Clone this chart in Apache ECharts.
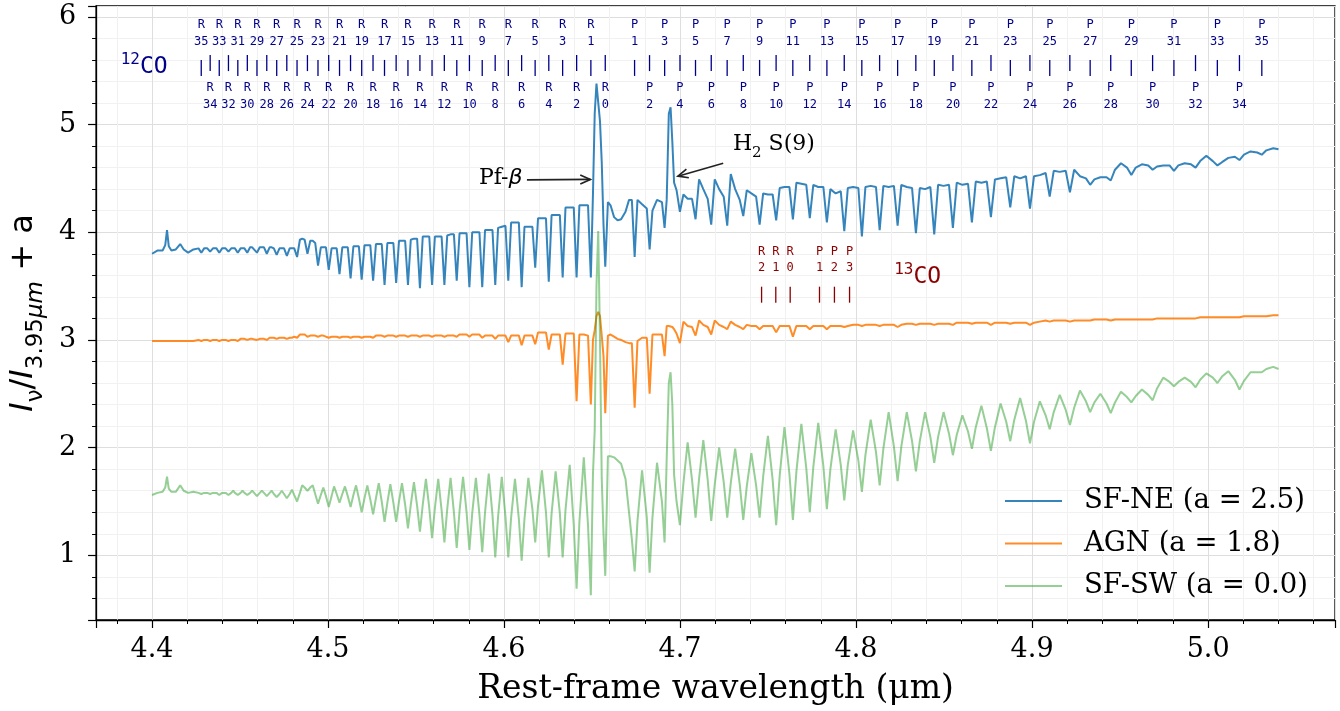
<!DOCTYPE html>
<html><head><meta charset="utf-8">
<script src="https://cdn.jsdelivr.net/npm/echarts@6/dist/echarts.min.js"></script>
<style>html,body{margin:0;padding:0;background:#fff}#c{width:1340px;height:711px}</style>
</head><body><div id="c"></div>
<script>
// ---------------- data ----------------
const wavelength = [
// pre
4.4000, 4.4030, 4.4060, 4.4075, 4.4085, 4.4095, 4.4110, 4.4135, 4.4160, 4.4180, 4.4205, 4.4235,
// R35..R1 (shoulder, line, shoulder, between-lines)
4.4264, 4.4280, 4.4296, 4.4305, 4.4314, 4.4330, 4.4346, 4.4356, 4.4366, 4.4382, 4.4398, 4.4408,
4.4418, 4.4434, 4.4450, 4.4461, 4.4471, 4.4487, 4.4503, 4.4514, 4.4525, 4.4541, 4.4557, 4.4569,
4.4580, 4.4596, 4.4612, 4.4624, 4.4636, 4.4652, 4.4668, 4.4680, 4.4692, 4.4708, 4.4724, 4.4737,
4.4750, 4.4766, 4.4782, 4.4795, 4.4808, 4.4824, 4.4840, 4.4853, 4.4867, 4.4883, 4.4899, 4.4913,
4.4927, 4.4943, 4.4959, 4.4973, 4.4988, 4.5004, 4.5020, 4.5034, 4.5049, 4.5065, 4.5081, 4.5096,
4.5112, 4.5128, 4.5144, 4.5159, 4.5175, 4.5191, 4.5207, 4.5223, 4.5240, 4.5256, 4.5272, 4.5288,
4.5305, 4.5321, 4.5337, 4.5354, 4.5371, 4.5387, 4.5403, 4.5420, 4.5438, 4.5454, 4.5470, 4.5488,
4.5506, 4.5522, 4.5538, 4.5556, 4.5575, 4.5591, 4.5607, 4.5626, 4.5645, 4.5661, 4.5677, 4.5696,
4.5715, 4.5731, 4.5747, 4.5767, 4.5787, 4.5803, 4.5819, 4.5840, 4.5860, 4.5876, 4.5892, 4.5913,
4.5934, 4.5950, 4.5966, 4.5987, 4.6008, 4.6024, 4.6040, 4.6062, 4.6084, 4.6100, 4.6116, 4.6138,
4.6161, 4.6177, 4.6193, 4.6215, 4.6238, 4.6254, 4.6270, 4.6293, 4.6317, 4.6333, 4.6349, 4.6373,
4.6396, 4.6412, 4.6428, 4.6453, 4.6477, 4.6493,
// Pf-beta, R0
4.6505, 4.6515, 4.6525, 4.6535, 4.6545, 4.6555, 4.6565, 4.6575, 4.6590, 4.6605, 4.6625, 4.6645, 4.6665, 4.6690, 4.6710,
// P1..P4, H2 S(9)
4.6726, 4.6742, 4.6758, 4.6784, 4.6811, 4.6827, 4.6843, 4.6869, 4.6897, 4.6912,
4.6924, 4.6936, 4.6946, 4.6956, 4.6966, 4.6980, 4.6999, 4.7019, 4.7043,
// P5..P35
4.7068, 4.7088, 4.7108, 4.7132, 4.7157, 4.7177, 4.7197, 4.7222, 4.7248, 4.7268, 4.7288, 4.7313,
4.7339, 4.7359, 4.7379, 4.7405, 4.7432, 4.7452, 4.7472, 4.7499, 4.7526, 4.7546, 4.7566, 4.7593,
4.7621, 4.7641, 4.7661, 4.7689, 4.7717, 4.7737, 4.7757, 4.7785, 4.7814, 4.7834, 4.7854, 4.7884,
4.7913, 4.7933, 4.7953, 4.7983, 4.8013, 4.8033, 4.8053, 4.8083, 4.8113, 4.8134, 4.8155, 4.8185,
4.8215, 4.8236, 4.8257, 4.8288, 4.8318, 4.8340, 4.8362, 4.8392, 4.8422, 4.8444, 4.8466, 4.8497,
4.8528, 4.8550, 4.8572, 4.8604, 4.8636, 4.8658, 4.8680, 4.8712, 4.8743, 4.8766, 4.8789, 4.8821,
4.8853, 4.8876, 4.8899, 4.8932, 4.8965, 4.8988, 4.9011, 4.9044, 4.9077, 4.9100, 4.9123, 4.9157,
4.9191, 4.9215, 4.9239, 4.9272, 4.9306, 4.9330, 4.9354, 4.9388, 4.9423, 4.9447, 4.9471, 4.9505,
4.9539, 4.9564, 4.9589, 4.9624, 4.9660, 4.9685, 4.9710, 4.9745, 4.9781, 4.9806, 4.9831, 4.9867,
4.9903, 4.9929, 4.9955, 4.9990, 5.0027, 5.0053, 5.0079, 5.0115, 5.0152, 5.0178, 5.0204, 5.0241,
5.0279, 5.0305, 5.0331, 5.0370, 5.0400
];

const sfNE = [
3.80, 3.83, 3.83, 3.88, 4.02, 3.87, 3.83, 3.84, 3.89, 3.84, 3.81, 3.84,
3.85,3.81,3.85,3.85, 3.85,3.82,3.85,3.85, 3.85,3.81,3.85,3.85,
3.85,3.82,3.85,3.85, 3.85,3.81,3.85,3.85, 3.85,3.81,3.86,3.86,
3.86,3.81,3.86,3.86, 3.86,3.80,3.86,3.86, 3.85,3.79,3.85,3.85,
3.85,3.78,3.85,3.85, 3.85,3.77,3.93,3.94, 3.93,3.80,3.92,3.92,
3.90,3.69,3.86,3.86, 3.86,3.65,3.85,3.85, 3.85,3.61,3.86,3.86,
3.86,3.57,3.87,3.87, 3.87,3.56,3.88,3.88, 3.88,3.55,3.89,3.89,
3.89,3.51,3.90,3.90, 3.90,3.53,3.92,3.92, 3.92,3.51,3.93,3.94,
3.94,3.48,3.96,3.96, 3.96,3.51,3.96,3.96, 3.96,3.51,3.97,3.98,
3.98,3.55,3.99,3.99, 3.99,3.49,4.00,4.00, 4.00,3.49,4.02,4.02,
4.02,3.51,4.04,4.05, 4.06,3.55,4.09,4.09, 4.09,3.49,4.05,4.05,
4.05,3.67,4.13,4.13, 4.13,3.54,4.16,4.16, 4.16,3.58,4.23,4.23,
4.23,3.58,4.25,4.25, 4.25,3.58,
4.35, 5.10, 5.38, 5.38, 5.03, 4.65, 4.07, 3.68, 4.28, 4.25, 4.14, 4.11, 4.12, 4.19, 4.30,
4.30, 3.77, 4.30, 4.26, 4.22, 3.84, 4.20, 4.30, 4.28, 4.04,
4.30, 5.10, 5.16, 4.84, 4.46, 4.39, 4.19, 4.35, 4.31,
4.31,4.12,4.49,4.40, 4.31,4.07,4.49,4.40, 4.33,4.06,4.54,4.40,
4.30,4.15,4.39,4.36, 4.33,4.07,4.36,4.35, 4.35,4.11,4.41,4.42,
4.42,4.12,4.46,4.45, 4.44,4.13,4.44,4.42, 4.42,4.09,4.40,4.36,
4.38,4.01,4.41,4.42, 4.41,3.96,4.42,4.43, 4.42,4.02,4.43,4.42,
4.43,4.06,4.44,4.42, 4.41,3.99,4.41,4.40, 4.42,3.98,4.44,4.43,
4.44,4.04,4.46,4.44, 4.45,4.09,4.47,4.46, 4.47,4.14,4.49,4.50,
4.51,4.23,4.52,4.50, 4.52,4.22,4.52,4.53, 4.55,4.33,4.57,4.56,
4.57,4.37,4.58,4.52, 4.50,4.44,4.49,4.51, 4.51,4.48,4.58,4.64,
4.60,4.53,4.60,4.63, 4.62,4.58,4.61,4.62, 4.62,4.57,4.62,4.64,
4.63,4.60,4.66,4.71, 4.66,4.62,4.65,4.69, 4.70,4.67,4.72,4.75,
4.74,4.72,4.76,4.78,4.77
];

const agn = [
2.99, 2.99, 2.99, 2.99, 3.00, 2.99, 2.99, 2.99, 2.99, 2.99, 2.99, 2.99,
3.00,2.99,3.00,3.00, 3.00,2.99,3.00,3.00, 3.00,2.99,3.00,3.00,
3.00,2.99,3.00,3.00, 3.00,2.99,3.01,3.01, 3.01,3.00,3.01,3.01,
3.01,3.00,3.01,3.01, 3.01,3.00,3.02,3.02, 3.02,3.01,3.02,3.02,
3.02,3.01,3.02,3.02, 3.03,3.02,3.05,3.05, 3.05,3.03,3.04,3.04,
3.04,3.03,3.04,3.04, 3.03,3.02,3.03,3.03, 3.03,3.02,3.03,3.03,
3.03,3.02,3.03,3.03, 3.03,3.02,3.03,3.03, 3.03,3.02,3.04,3.04,
3.04,3.03,3.04,3.04, 3.04,3.03,3.04,3.04, 3.04,3.03,3.04,3.04,
3.04,3.03,3.04,3.04, 3.04,3.03,3.04,3.04, 3.04,3.03,3.04,3.04,
3.04,3.03,3.05,3.05, 3.05,3.03,3.05,3.05, 3.05,3.02,3.04,3.04,
3.04,3.01,3.04,3.04, 3.04,2.98,3.04,3.04, 3.04,2.95,3.04,3.04,
3.04,2.96,3.07,3.07, 3.07,2.91,3.05,3.05, 3.05,2.77,3.06,3.06,
3.06,2.43,3.05,3.05, 3.04,2.40,
3.00, 3.09, 3.22, 3.26, 3.22, 3.04, 2.85, 2.32, 3.04, 3.05, 3.03, 3.01, 3.00, 2.98, 2.97,
2.97, 2.37, 2.99, 3.02, 3.02, 2.50, 3.05, 3.05, 3.05, 2.85,
3.13, 3.13, 3.12, 3.12, 3.10, 3.06, 2.97, 3.17, 3.13,
3.12,3.04,3.18,3.14, 3.12,3.05,3.18,3.14, 3.12,3.10,3.17,3.14,
3.12,3.10,3.14,3.13, 3.13,3.10,3.13,3.13, 3.13,3.07,3.13,3.13,
3.13,3.03,3.13,3.13, 3.13,3.10,3.13,3.13, 3.13,3.10,3.13,3.13,
3.13,3.12,3.13,3.14, 3.14,3.13,3.14,3.14, 3.14,3.13,3.14,3.14,
3.14,3.12,3.14,3.15, 3.15,3.14,3.15,3.15, 3.15,3.14,3.15,3.15,
3.15,3.14,3.16,3.16, 3.16,3.15,3.16,3.16, 3.16,3.14,3.16,3.16,
3.16,3.15,3.16,3.16, 3.16,3.14,3.16,3.17, 3.18,3.17,3.18,3.18,
3.18,3.17,3.18,3.18, 3.18,3.18,3.19,3.19, 3.19,3.18,3.19,3.19,
3.19,3.19,3.19,3.19, 3.19,3.19,3.20,3.20, 3.20,3.20,3.20,3.20,
3.20,3.20,3.21,3.21, 3.21,3.21,3.21,3.21, 3.21,3.21,3.22,3.22,
3.22,3.22,3.22,3.23,3.23
];

const sfSW = [
1.56, 1.58, 1.59, 1.63, 1.73, 1.62, 1.59, 1.59, 1.65, 1.60, 1.58, 1.59,
1.58,1.57,1.58,1.59, 1.58,1.57,1.58,1.59, 1.58,1.56,1.58,1.59,
1.58,1.56,1.58,1.60, 1.58,1.56,1.58,1.60, 1.58,1.56,1.58,1.60,
1.58,1.55,1.58,1.60, 1.58,1.55,1.58,1.60, 1.57,1.54,1.57,1.60,
1.57,1.53,1.57,1.61, 1.56,1.50,1.58,1.65, 1.63,1.60,1.63,1.65,
1.57,1.48,1.56,1.63, 1.55,1.45,1.55,1.64, 1.57,1.49,1.57,1.64,
1.55,1.45,1.56,1.65, 1.53,1.40,1.53,1.65, 1.52,1.38,1.53,1.67,
1.50,1.31,1.49,1.66, 1.49,1.31,1.50,1.67, 1.47,1.25,1.47,1.68,
1.46,1.22,1.47,1.71, 1.44,1.16,1.44,1.71, 1.42,1.12,1.43,1.72,
1.40,1.07,1.41,1.73, 1.40,1.05,1.39,1.72, 1.38,1.03,1.40,1.76,
1.38,0.98,1.36,1.73, 1.36,0.98,1.35,1.71, 1.34,0.95,1.34,1.72,
1.43,1.12,1.46,1.79, 1.40,0.98,1.39,1.78, 1.39,0.98,1.42,1.84,
1.28,0.69,1.31,1.91, 1.28,0.63,
1.75, 2.16, 3.50, 4.01, 3.00, 1.71, 1.20, 0.81, 1.92, 1.92, 1.91, 1.88, 1.85, 1.71, 1.40,
1.15, 0.85, 1.32, 1.79, 1.35, 0.84, 1.35, 1.86, 1.50, 1.12,
1.90, 2.60, 2.70, 2.40, 1.75, 1.50, 1.28, 1.67, 2.05,
1.70,1.35,1.71,2.07, 1.70,1.32,1.66,2.00, 1.68,1.35,1.67,1.99,
1.66,1.33,1.64,1.95, 1.65,1.35,1.73,2.11, 1.70,1.28,1.74,2.19,
1.76,1.33,1.78,2.22, 1.81,1.40,1.82,2.23, 1.83,1.43,1.80,2.17,
1.84,1.51,1.84,2.16, 1.88,1.59,1.93,2.26, 1.96,1.65,1.99,2.33,
2.01,1.69,2.01,2.33, 2.06,1.78,2.06,2.33, 2.10,1.86,2.10,2.33,
2.13,1.93,2.12,2.30, 2.15,1.99,2.19,2.39, 2.18,1.97,2.19,2.41,
2.24,2.06,2.26,2.46, 2.25,2.04,2.24,2.43, 2.30,2.17,2.33,2.49,
2.35,2.21,2.37,2.53, 2.43,2.33,2.42,2.50, 2.41,2.32,2.42,2.52,
2.47,2.42,2.48,2.54, 2.49,2.44,2.55,2.65, 2.61,2.57,2.61,2.65,
2.61,2.56,2.63,2.69, 2.65,2.60,2.66,2.71, 2.63,2.54,2.62,2.70,
2.70,2.70,2.73,2.75,2.73
];

const seriesNames = ['SF-NE (a = 2.5)', 'AGN (a = 1.8)', 'SF-SW (a = 0.0)'];

// 12CO v=1-0 line wavelengths (um): R(0..35), P(1..35)
const co12R = [4.65749, 4.64932, 4.64124, 4.63328, 4.62541, 4.61765, 4.60998, 4.60242, 4.59495, 4.58759,
  4.58032, 4.57314, 4.56606, 4.55908, 4.55219, 4.54539, 4.53868, 4.53207, 4.52555, 4.51912,
  4.51277, 4.50652, 4.50036, 4.49428, 4.48828, 4.48238, 4.47656, 4.47083, 4.46518, 4.45961,
  4.45413, 4.44873, 4.44341, 4.43818, 4.43302, 4.42795];
const co12P = [4.67415, 4.68265, 4.69124, 4.69995, 4.70877, 4.71771, 4.72675, 4.73591, 4.74518, 4.75456,
  4.76406, 4.77368, 4.78342, 4.79328, 4.80326, 4.81337, 4.82360, 4.83395, 4.84443, 4.85503,
  4.86577, 4.87664, 4.88764, 4.89877, 4.91004, 4.92145, 4.93299, 4.94468, 4.95635, 4.96847,
  4.98058, 4.99285, 5.00525, 5.01781, 5.03052];
// 13CO lines: R(0..2), P(1..3)
const co13R = [4.76256, 4.75438, 4.74631];
const co13P = [4.77921, 4.78770, 4.79629];

const xTickLabels = ['4.4', '4.5', '4.6', '4.7', '4.8', '4.9', '5.0'];

if (wavelength.length !== sfNE.length || wavelength.length !== agn.length || wavelength.length !== sfSW.length) {
  throw new Error('length mismatch ' + wavelength.length + ' ' + sfNE.length + ' ' + agn.length + ' ' + sfSW.length);
}

// ---------------- chart ----------------
const SERIF = 'DejaVu Serif', SANS = 'DejaVu Sans', MONO = 'DejaVu Sans Mono';
const NAVY = '#00008b', DRED = '#8b0000';
const pairs = arr => wavelength.map((w, i) => [w, arr[i]]);

const co12Items = [];
co12R.forEach((w, J) => co12Items.push({ w, text: 'R\n' + J, odd: J % 2 === 1 }));
co12P.forEach((w, i) => co12Items.push({ w, text: 'P\n' + (i + 1), odd: (i + 1) % 2 === 1 }));
const co13Items = [];
co13R.forEach((w, J) => co13Items.push({ w, text: 'R\n' + J }));
co13P.forEach((w, i) => co13Items.push({ w, text: 'P\n' + (i + 1) }));

const Y12 = { tickOdd: 5.525, tickEven: 5.57, labOdd: 5.843, labEven: 5.264 };
const Y13 = { tick: 3.42, lab: 3.745 };

const notes = [
  { at: [4.3955, 5.55], text: '{sup|12}{big|CO}', color: NAVY, align: 'center', set: 'co' },
  { at: [4.8350, 3.60], text: '{sup|13}{big|CO}', color: DRED, align: 'center', set: 'co' },
  { at: [4.6105, 4.48], text: '{n|Pf-}{g|β}', color: '#000', align: 'right', set: 'serif' },
  { at: [4.7300, 4.79], text: '{n|H}{s|2}{n| S(9)}', color: '#000', align: 'left', set: 'serif' }
];
const richSets = {
  co: {
    sup: { fontFamily: MONO, fontSize: 16, verticalAlign: 'bottom', padding: [0, 0, 11, 0] },
    big: { fontFamily: MONO, fontSize: 23, verticalAlign: 'bottom' }
  },
  serif: {
    n: { fontFamily: SERIF, fontSize: 22, verticalAlign: 'bottom', padding: [0, 0, 5, 0] },
    g: { fontFamily: SANS, fontStyle: 'italic', fontSize: 22, verticalAlign: 'bottom', padding: [0, 0, 5, 0] },
    s: { fontFamily: SERIF, fontSize: 15, verticalAlign: 'bottom' }
  }
};
const arrows = [
  [4.6130, 4.485, 4.6490, 4.490],
  [4.7245, 4.640, 4.6988, 4.520]
];

const chart = echarts.init(document.getElementById('c'), null, { renderer: 'canvas', width: 1340, height: 711 });

const option = {
  animation: false,
  backgroundColor: '#fff',
  grid: { left: 95, right: 5, top: 6, bottom: 89, show: true, borderColor: '#000', borderWidth: 1.3, backgroundColor: 'transparent' },
  legend: {
    data: seriesNames, orient: 'vertical', left: 1004, top: 487, padding: 0,
    itemWidth: 57, itemHeight: 26, itemGap: 14.5,
    itemStyle: { color: 'transparent', borderColor: 'transparent', borderWidth: 0, opacity: 0 },
    lineStyle: { width: 2 },
    textStyle: { fontFamily: SERIF, fontSize: 27.5, color: '#000', lineHeight: 26, padding: [0, 0, 0, 17] }
  },
  xAxis: {
    type: 'value', min: 4.3682, max: 5.0721, splitNumber: 7,
    name: 'Rest-frame wavelength (μm)', nameLocation: 'middle', nameGap: 53,
    nameTextStyle: { fontFamily: SERIF, fontSize: 33, color: '#000' },
    axisLine: { lineStyle: { color: '#000', width: 1.3 } },
    axisTick: { length: 8, lineStyle: { color: '#000', width: 1.2 } },
    minorTick: { show: true, splitNumber: 5, length: 4, lineStyle: { color: '#000', width: 1 } },
    splitLine: { show: true, lineStyle: { color: '#dedede', width: 1 } },
    minorSplitLine: { show: true, lineStyle: { color: '#f1f1f1', width: 1 } },
    axisLabel: {
      fontFamily: SERIF, fontSize: 27, color: '#000', margin: 16, showMinLabel: false, showMaxLabel: false,
      formatter: v => { const s = v.toFixed(1); return xTickLabels.includes(s) && Math.abs(v - parseFloat(s)) < 1e-6 ? s : ''; }
    }
  },
  yAxis: {
    type: 'value', min: 0.4, max: 6.1, splitNumber: 6,
    name: '{i|I}{sb|ν}{n|/}{i|I}{sb|3.95}{si|μm}{n| + a}', nameLocation: 'middle', nameGap: 48, nameRotate: 90,
    nameTextStyle: {
      color: '#000',
      rich: {
        i: { fontFamily: SANS, fontStyle: 'italic', fontSize: 32, verticalAlign: 'bottom', padding: [0, 0, 8, 0] },
        n: { fontFamily: SANS, fontSize: 32, verticalAlign: 'bottom', padding: [0, 0, 8, 0] },
        sb: { fontFamily: SANS, fontSize: 23, verticalAlign: 'bottom' },
        si: { fontFamily: SANS, fontStyle: 'italic', fontSize: 23, verticalAlign: 'bottom' }
      }
    },
    axisLine: { lineStyle: { color: '#000', width: 1.3 } },
    axisTick: { length: 8, lineStyle: { color: '#000', width: 1.2 } },
    minorTick: { show: true, splitNumber: 5, length: 4, lineStyle: { color: '#000', width: 1 } },
    splitLine: { show: true, lineStyle: { color: '#dedede', width: 1 } },
    minorSplitLine: { show: true, lineStyle: { color: '#f1f1f1', width: 1 } },
    axisLabel: { fontFamily: SERIF, fontSize: 27, color: '#000', margin: 20, showMinLabel: false, showMaxLabel: false,
      formatter: v => (Math.abs(v - Math.round(v)) < 1e-6 ? String(Math.round(v)) : '') }
  },
  series: [
    { name: seriesNames[0], type: 'line', data: pairs(sfNE), symbol: 'none', z: 2, silent: true,
      lineStyle: { color: 'rgba(31,119,180,0.9)', width: 2 }, itemStyle: { color: 'rgba(31,119,180,0.9)' } },
    { name: seriesNames[1], type: 'line', data: pairs(agn), symbol: 'none', z: 2, silent: true,
      lineStyle: { color: 'rgba(255,127,14,0.9)', width: 2 }, itemStyle: { color: 'rgba(255,127,14,0.9)' } },
    { name: seriesNames[2], type: 'line', data: pairs(sfSW), symbol: 'none', z: 3, silent: true,
      lineStyle: { color: 'rgba(44,160,44,0.5)', width: 2 }, itemStyle: { color: 'rgba(44,160,44,0.5)' } },
    { type: 'custom', silent: true, z: 5, clip: false,
      data: co12Items.map(it => [it.w, it.odd ? Y12.tickOdd : Y12.tickEven]),
      encode: { x: 0, y: 1 },
      renderItem: (params, api) => {
        const it = co12Items[params.dataIndex];
        const t = api.coord([it.w, it.odd ? Y12.tickOdd : Y12.tickEven]);
        const l = api.coord([it.w, it.odd ? Y12.labOdd : Y12.labEven]);
        return { type: 'group', children: [
          { type: 'line', shape: { x1: t[0], y1: t[1] - 8, x2: t[0], y2: t[1] + 8 }, style: { stroke: NAVY, lineWidth: 1.3 } },
          { type: 'text', x: l[0], y: l[1], style: { text: it.text, fill: NAVY, fontFamily: MONO, fontSize: 12, lineHeight: 17, align: 'center', verticalAlign: 'middle' } }
        ] };
      } },
    { type: 'custom', silent: true, z: 5, clip: false,
      data: co13Items.map(it => [it.w, Y13.tick]),
      encode: { x: 0, y: 1 },
      renderItem: (params, api) => {
        const it = co13Items[params.dataIndex];
        const t = api.coord([it.w, Y13.tick]);
        const l = api.coord([it.w, Y13.lab]);
        return { type: 'group', children: [
          { type: 'line', shape: { x1: t[0], y1: t[1] - 8, x2: t[0], y2: t[1] + 8 }, style: { stroke: DRED, lineWidth: 1.3 } },
          { type: 'text', x: l[0], y: l[1], style: { text: it.text, fill: DRED, fontFamily: MONO, fontSize: 12, lineHeight: 16, align: 'center', verticalAlign: 'middle' } }
        ] };
      } },
    { type: 'custom', silent: true, z: 6, clip: false,
      data: notes.map(n => n.at),
      encode: { x: 0, y: 1 },
      renderItem: (params, api) => {
        const n = notes[params.dataIndex];
        const p = api.coord(n.at);
        return { type: 'text', x: p[0], y: p[1], style: { text: n.text, fill: n.color, rich: richSets[n.set], align: n.align, verticalAlign: 'middle' } };
      } },
    { type: 'custom', silent: true, z: 6, clip: false,
      data: arrows,
      encode: { x: [0, 2], y: [1, 3] },
      renderItem: (params, api) => {
        const p1 = api.coord([api.value(0), api.value(1)]);
        const p2 = api.coord([api.value(2), api.value(3)]);
        const ang = Math.atan2(p2[1] - p1[1], p2[0] - p1[0]);
        const L = 11, a = 0.42;
        const h1 = [p2[0] - L * Math.cos(ang - a), p2[1] - L * Math.sin(ang - a)];
        const h2 = [p2[0] - L * Math.cos(ang + a), p2[1] - L * Math.sin(ang + a)];
        return { type: 'group', children: [
          { type: 'line', shape: { x1: p1[0], y1: p1[1], x2: p2[0], y2: p2[1] }, style: { stroke: '#222', lineWidth: 1.7 } },
          { type: 'polyline', shape: { points: [h1, p2, h2] }, style: { stroke: '#222', lineWidth: 1.7, fill: null } }
        ] };
      } }
  ]
};
chart.setOption(option);
</script>
</body></html>
